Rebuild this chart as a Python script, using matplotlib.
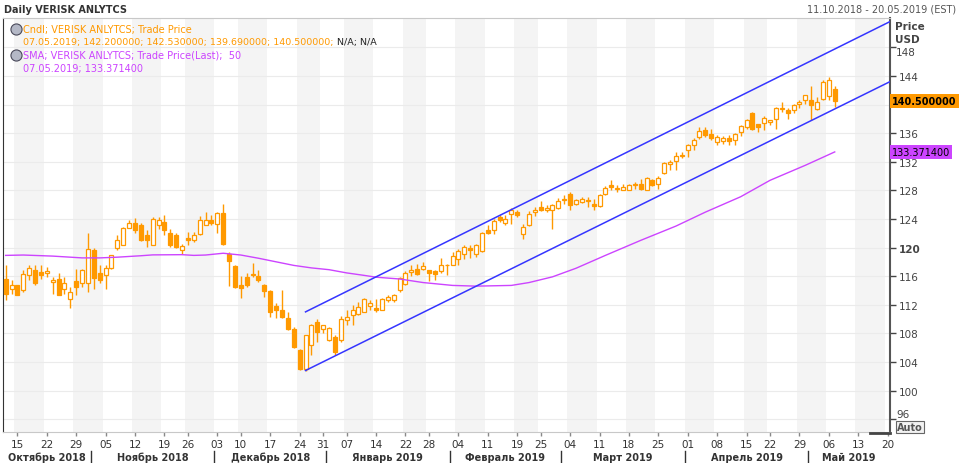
import numpy as np
import pandas as pd
import matplotlib
matplotlib.use("Agg")
import matplotlib.pyplot as plt
import matplotlib.transforms as mtransforms
from matplotlib.lines import Line2D

plt.rcParams['font.family'] = ['DejaVu Sans']

# trading days 11.10.2018 - 20.05.2019 (NYSE holidays removed)
holidays = ['2018-11-22', '2018-12-05', '2018-12-25', '2019-01-01',
            '2019-01-21', '2019-02-18', '2019-04-19']
days = pd.bdate_range('2018-10-11', '2019-05-20')
days = days[~days.isin(pd.to_datetime(holidays))]

# daily candles, 11.10.2018 .. 07.05.2019
opens = [115.6, 114.2, 114.7, 114.1, 116.2, 116.8, 116.6, 116.5, 115.2, 115.6,
         114.2, 112.8, 115.3, 115.0, 115.0, 119.6, 116.4, 116.1, 117.2, 120.0,
         120.4, 122.8, 123.4, 123.1, 121.8, 120.4, 123.2, 123.5, 122.1, 121.8,
         119.7, 121.4, 121.1, 121.9, 123.2, 123.9, 123.3, 124.85, 119.1, 117.4,
         114.8, 115.85, 116.1, 116.0, 114.8, 113.85, 111.8, 111.2, 110.1, 108.6,
         105.7, 103.0, 106.3, 109.65, 108.6, 107.0, 107.5, 107.0, 109.9, 110.5,
         110.7, 111.05, 111.8, 111.5, 111.3, 112.6, 112.6, 114.0, 114.9, 116.55,
         117.0, 117.0, 116.8, 116.65, 116.65, 117.5, 117.6, 118.4, 119.1, 119.9,
         119.1, 119.5, 122.5, 122.5, 124.2, 123.45, 124.7, 125.0, 121.9, 123.2,
         125.0, 125.6, 125.2, 125.2, 125.5, 126.7, 127.5, 126.1, 126.35, 126.65,
         126.1, 125.8, 127.5, 128.7, 128.2, 128.1, 128.1, 128.7, 128.9, 128.1,
         129.4, 128.9, 130.45, 131.7, 132.04, 132.8, 133.6, 134.3, 135.4, 136.37,
         135.9, 134.8, 134.9, 135.3, 134.97, 136.2, 136.83, 138.84, 137.3, 137.4,
         137.5, 138.0, 139.4, 139.2, 139.2, 140.1, 140.6, 140.6, 139.4, 140.8,
         141.2, 142.2]
highs = [117.5, 115.5, 114.8, 116.9, 117.6, 117.5, 117.5, 117.3, 115.9, 116.5,
         115.85, 114.5, 117.0, 117.0, 122.0, 120.0, 117.5, 117.5, 119.0, 121.8,
         122.9, 123.9, 124.1, 123.4, 122.4, 124.2, 124.3, 124.5, 122.6, 122.1,
         120.5, 122.15, 122.2, 124.4, 124.9, 124.6, 124.95, 126.1, 119.35, 117.5,
         116.0, 116.4, 117.9, 116.9, 114.9, 114.0, 112.2, 114.0, 111.05, 108.9,
         105.8, 107.8, 109.3, 110.0, 109.2, 108.9, 107.7, 110.4, 111.2, 112.0,
         112.4, 112.9, 112.6, 112.8, 112.9, 113.4, 113.5, 115.85, 116.65, 117.5,
         117.7, 117.95, 116.9, 116.9, 118.5, 117.7, 119.4, 119.8, 120.3, 120.3,
         120.5, 122.2, 123.2, 124.0, 124.55, 124.6, 125.5, 125.2, 123.3, 125.1,
         125.6, 126.45, 125.9, 126.1, 126.9, 127.3, 127.75, 126.8, 127.05, 127.05,
         126.8, 127.5, 128.6, 129.4, 128.8, 128.9, 128.95, 129.2, 129.6, 129.85,
         129.6, 130.0, 132.0, 132.2, 133.35, 133.35, 134.5, 135.3, 136.8, 136.83,
         136.6, 135.8, 135.6, 135.8, 136.0, 137.2, 138.0, 139.0, 137.3, 138.4,
         137.9, 139.63, 140.4, 139.5, 140.1, 140.6, 141.4, 142.6, 141.0, 143.4,
         143.8, 142.53]
lows = [112.6, 113.5, 113.3, 113.8, 115.5, 114.8, 115.6, 115.9, 113.5, 113.3,
        113.5, 111.6, 113.3, 114.5, 113.75, 114.2, 115.0, 114.2, 117.0, 119.6,
        120.3, 122.8, 122.1, 120.9, 120.1, 120.4, 122.6, 121.7, 120.1, 120.0,
        119.1, 120.3, 120.8, 121.8, 123.1, 123.1, 122.05, 120.3, 114.6, 114.3,
        112.9, 114.5, 115.85, 115.15, 113.06, 110.26, 110.1, 110.1, 108.4, 105.9,
        102.9, 102.8, 105.0, 106.8, 108.0, 106.9, 104.9, 106.8, 109.2, 109.1,
        110.5, 110.96, 111.2, 111.05, 111.2, 112.36, 112.36, 113.76, 114.8, 116.0,
        116.2, 116.9, 115.25, 115.4, 116.5, 116.1, 117.5, 117.5, 118.4, 118.5,
        118.65, 119.35, 121.9, 121.9, 123.55, 123.2, 123.3, 124.25, 121.15, 123.05,
        124.45, 125.05, 124.95, 122.6, 125.4, 126.1, 125.2, 125.9, 126.25, 125.65,
        125.2, 125.65, 127.3, 128.0, 127.75, 128.0, 128.0, 128.2, 128.1, 128.0,
        128.6, 128.2, 130.3, 130.9, 130.9, 132.5, 132.6, 133.6, 135.2, 135.4,
        135.1, 134.4, 134.5, 134.4, 134.4, 135.6, 136.6, 136.4, 136.1, 136.4,
        137.2, 136.6, 138.9, 138.0, 138.84, 139.5, 140.1, 137.9, 139.2, 140.7,
        140.6, 139.69]
closes = [113.5, 114.8, 113.3, 116.3, 117.2, 115.0, 116.2, 116.7, 115.5, 113.4,
          115.0, 113.8, 114.5, 116.9, 119.8, 115.8, 115.5, 117.2, 118.9, 121.0,
          122.8, 123.4, 122.4, 121.0, 121.1, 124.0, 123.8, 122.5, 120.3, 120.1,
          120.2, 121.0, 121.7, 123.8, 123.8, 123.45, 124.85, 120.5, 118.05, 114.45,
          114.3, 114.7, 116.3, 115.5, 113.85, 111.05, 111.2, 110.26, 108.6, 106.1,
          103.0, 107.7, 109.2, 108.2, 109.1, 108.7, 105.4, 110.0, 110.26, 111.2,
          111.66, 112.8, 112.3, 111.2, 112.8, 113.15, 113.3, 115.7, 116.5, 116.9,
          116.3, 117.35, 116.5, 116.3, 117.6, 117.6, 118.8, 119.45, 120.05, 119.7,
          120.3, 122.1, 122.1, 123.7, 123.85, 124.0, 125.3, 124.5, 122.85, 124.7,
          125.2, 125.25, 125.5, 125.9, 126.45, 126.8, 125.9, 126.6, 126.8, 126.5,
          125.8, 127.3, 128.3, 128.5, 128.3, 128.5, 128.8, 128.75, 128.2, 129.7,
          128.8, 129.7, 131.85, 132.0, 132.8, 132.9, 134.3, 135.0, 136.3, 135.76,
          135.3, 135.4, 135.3, 134.9, 135.9, 136.97, 137.9, 136.6, 136.83, 138.1,
          137.9, 139.5, 139.5, 138.84, 139.9, 140.4, 141.3, 139.9, 140.3, 143.2,
          143.4, 140.5]

# SMA(50), read at selected trading-day numbers
sma_day = [0, 3, 8, 13, 16, 19, 23, 25, 30, 32, 34, 37, 40, 43, 46, 49, 52, 55,
           58, 61, 63, 67, 71, 76, 80, 86, 89, 93, 97, 102, 108, 114, 119, 125,
           130, 136, 141]
sma_val = [118.9, 118.95, 118.8, 118.55, 118.55, 118.65, 118.85, 118.97, 119.0,
           118.9, 118.95, 119.2, 118.95, 118.5, 118.0, 117.5, 117.15, 116.9,
           116.45, 116.1, 115.85, 115.6, 115.1, 114.7, 114.6, 114.7, 115.1, 115.9,
           117.1, 118.9, 121.0, 123.0, 124.95, 127.1, 129.4, 131.5, 133.37]

# regression channel
chan_day = [51, 150.4]
chan_low = [102.8, 143.2]
chan_high = [111.0, 151.6]

months_ru = ['Октябрь 2018', 'Ноябрь 2018', 'Декабрь 2018', 'Январь 2019',
             'Февраль 2019', 'Март 2019', 'Апрель 2019', 'Май 2019']
price_ticks = list(range(96, 149, 4))

ORANGE = '#ff9900'
VIOLET = '#cc44ff'
BLUE = '#3535ff'
W, H = 961, 464


def fx(px):
    return px / W


def fy(py):
    return 1 - py / H


fig = plt.figure(figsize=(W / 100, H / 100), dpi=100)
ax = fig.add_axes([fx(3), fy(433), (890 - 3) / W, (433 - 19) / H])
xmin, xmax = -0.45, 150.4
ax.set_xlim(xmin, xmax)
ax.set_ylim(94.2, 152.1)

# alternating weekly shading
wk = np.array((days - pd.Timestamp('2018-10-15')).days // 7)
for w in np.unique(wk):
    pos = np.where(wk == w)[0]
    if w % 2 == 0:
        ax.axvspan(pos[0] - 0.5, pos[-1] + 0.5, color='#f4f4f4', lw=0, zorder=0)

ax.set_axisbelow(True)
ax.grid(axis='y', color='#ebebeb', lw=0.8)

# candles
o = np.array(opens)
c = np.array(closes)
idx = np.arange(len(c))
up = c >= o
ax.vlines(idx, lows, highs, color=ORANGE, lw=1, zorder=2)
bottom = np.minimum(o, c)
height = np.maximum(np.abs(c - o), 0.12)
ax.bar(idx[up], height[up], bottom=bottom[up], width=0.68, color='white',
       edgecolor=ORANGE, lw=0.9, zorder=3)
ax.bar(idx[~up], height[~up], bottom=bottom[~up], width=0.68, color=ORANGE,
       edgecolor=ORANGE, lw=0.9, zorder=3)

ax.plot(sma_day, sma_val, color=VIOLET, lw=1, zorder=4)
ax.plot(chan_day, chan_low, color=BLUE, lw=1.1, zorder=4)
ax.plot(chan_day, chan_high, color=BLUE, lw=1.1, zorder=4)

# right price axis; 140 sits under the price tag, 96/148 are nudged inwards
ax.yaxis.tick_right()
ax.set_yticks(price_ticks)
ax.set_yticklabels(['' if v in (96, 140, 148) else str(v) for v in price_ticks])
ax.tick_params(axis='y', direction='out', length=4, width=1, colors='#444444',
               labelsize=7.5, pad=2)
for lbl in ax.get_yticklabels():
    if lbl.get_text() == '120':
        lbl.set_fontweight('bold')
for v, dy in ((148, -5), (96, 5)):
    ax.annotate(str(v), xy=(1.0, v), xycoords=('axes fraction', 'data'),
                xytext=(6 * 0.72, dy * 0.72), textcoords='offset points',
                ha='left', va='center', fontsize=7.5, color='#444444')

# weekly ticks on the first trading day of each week
week_start = [i for i in range(1, len(days)) if days[i].weekday() < days[i - 1].weekday()]
ax.set_xticks(week_start)
ax.set_xticklabels([days[i].strftime('%d') for i in week_start])
ax.tick_params(axis='x', direction='out', length=3, width=1, colors='#888888',
               labelcolor='#333333', labelsize=7.5, pad=2)

for s in ['top', 'bottom']:
    ax.spines[s].set_color('#c8c8c8')
ax.spines['left'].set_color('#333333')
ax.spines['right'].set_color('#555555')
ax.spines['right'].set_linewidth(1.5)

# month labels and separators
trans = mtransforms.blended_transform_factory(ax.transData, ax.transAxes)
mon = np.array(days.month)
starts = [0] + [i for i in range(1, len(days)) if mon[i] != mon[i - 1]]
for k, s in enumerate(starts):
    e = starts[k + 1] - 1 if k + 1 < len(starts) else len(days) - 1
    a, b = max(s - 0.5, xmin), min(e + 0.5, xmax)
    ax.text((a + b) / 2, -0.060, months_ru[k], transform=trans, ha='center',
            va='center', fontsize=7, fontweight='bold', color='#333333')
    if k > 0:
        ax.plot([s - 0.5, s - 0.5], [-0.047, -0.073], transform=trans,
                color='#333333', lw=1, clip_on=False)

# price tags
ax.annotate('140.500000', xy=(1.0, 140.5), xycoords=('axes fraction', 'data'),
            xytext=(1.5, 0), textcoords='offset points', ha='left', va='center',
            fontsize=7, fontweight='bold', color='black', zorder=10,
            bbox=dict(boxstyle='square,pad=0.22', fc=ORANGE, ec='none'))
ax.annotate('133.371400', xy=(1.0, 133.3714), xycoords=('axes fraction', 'data'),
            xytext=(1.5, 0), textcoords='offset points', ha='left', va='center',
            fontsize=7, color='black', zorder=10,
            bbox=dict(boxstyle='square,pad=0.22', fc=VIOLET, ec='none'))

# header texts
fig.text(fx(4), fy(10), 'Daily VERISK ANLYTCS', fontsize=7, fontweight='bold',
         color='#333333', va='center')
fig.text(fx(956), fy(10), '11.10.2018 - 20.05.2019 (EST)', fontsize=7,
         color='#555555', va='center', ha='right')
fig.text(fx(895), fy(27), 'Price', fontsize=7.5, fontweight='bold', color='#444444', va='center')
fig.text(fx(895), fy(40), 'USD', fontsize=7.5, fontweight='bold', color='#444444', va='center')
fig.text(fx(910), fy(428), 'Auto', fontsize=7, fontweight='bold', color='#555555',
         ha='center', va='center',
         bbox=dict(boxstyle='square,pad=0.15', fc='#f2f2f2', ec='#666666', lw=0.8))
fig.add_artist(Line2D([fx(870), fx(890)], [fy(433.5), fy(433.5)], color='#444444', lw=2))

# legend block
for yy in (30, 56):
    fig.add_artist(Line2D([fx(16)], [fy(yy)], marker='o', ms=8, mfc='#b4b8c6',
                          mec='#4a4a5a', mew=0.8, ls='none'))
fig.text(fx(23), fy(30), 'Cndl; VERISK ANLYTCS; Trade Price', fontsize=7,
         color=ORANGE, va='center')
t2 = fig.text(fx(23), fy(43), '07.05.2019; 142.200000; 142.530000; 139.690000; 140.500000;',
              fontsize=6.8, color=ORANGE, va='center')
fig.canvas.draw()
bb = t2.get_window_extent()
fig.text(bb.x1 / W + fx(3), fy(43), 'N/A; N/A', fontsize=6.8, color='#222222', va='center')
fig.text(fx(23), fy(56), 'SMA; VERISK ANLYTCS; Trade Price(Last);  50', fontsize=7,
         color=VIOLET, va='center')
fig.text(fx(23), fy(69), '07.05.2019; 133.371400', fontsize=7, color=VIOLET, va='center')

fig.savefig('out.png', dpi=100)
